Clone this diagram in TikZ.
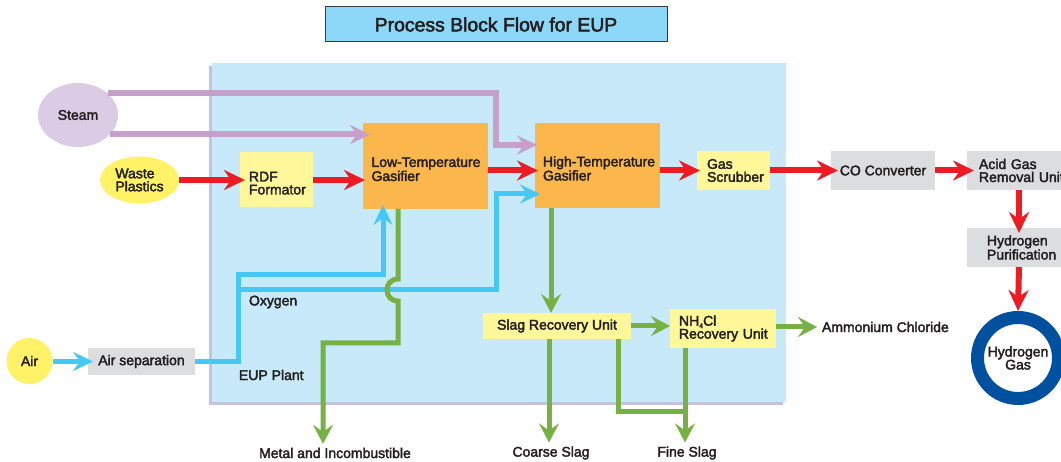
\documentclass[tikz,border=0pt]{standalone}
\usepackage{fontspec}
\setmainfont{Liberation Sans}[FakeBold=2.5]
\usetikzlibrary{arrows.meta,shapes.geometric,calc}
\definecolor{plantblue}{HTML}{C7E9F9}
\definecolor{plantshadow}{HTML}{C6C1E0}
\definecolor{titleblue}{HTML}{8DD8F8}
\definecolor{titleborder}{HTML}{3A3A3A}
\definecolor{steamfill}{HTML}{DCCBE4}
\definecolor{steamline}{HTML}{C69FCB}
\definecolor{yellowfill}{HTML}{FFF266}
\definecolor{paleyellow}{HTML}{FFF799}
\definecolor{orangefill}{HTML}{FBB74C}
\definecolor{grayfill}{HTML}{DCDDDE}
\definecolor{redline}{HTML}{ED1C24}
\definecolor{blueline}{HTML}{45C8F4}
\definecolor{greenline}{HTML}{77B143}
\definecolor{ringblue}{HTML}{0050A0}
\definecolor{textcol}{HTML}{231F20}
\newcommand{\oneline}[1]{\mbox{#1}}
\newcommand{\lowerstrut}{\rule{0pt}{16pt}}
\begin{document}
\begin{tikzpicture}[x=1pt,y=-1pt,
  every node/.style={text=textcol, font=\fontsize{14}{13}\selectfont, inner sep=0pt, outer sep=0pt},
  unitbox/.style={rectangle, inner ysep=0pt},
  ybox/.style={unitbox, fill=paleyellow},
  obox/.style={unitbox, fill=orangefill},
  gbox/.style={unitbox, fill=grayfill},
  redflow/.style={draw=redline, line width=6pt, -{Stealth[length=21pt,width=20pt,inset=7pt]}},
  steamflow/.style={draw=steamline, line width=6pt, -{Stealth[length=20pt,width=19pt,inset=7pt]}},
  oxyflow/.style={draw=blueline, line width=5pt},
  oxyarrow/.style={oxyflow, -{Stealth[length=20pt,width=19pt,inset=7pt]}},
  slagflow/.style={draw=greenline, line width=5pt},
  slagarrow/.style={slagflow, -{Stealth[length=19pt,width=20pt,inset=7pt]}},
]
\useasboundingbox (0,0) rectangle (1061,462);
\clip (0,0) rectangle (1061,462);

% plant background
\fill[plantshadow] (209,66) rectangle (783,405);
\fill[plantblue] (212,63) rectangle (786,402);

% title
\node[draw=titleborder, line width=1pt, fill=titleblue, minimum width=342pt, minimum height=35pt,
      font=\fontsize{19.4}{22}\selectfont] (title) at (496,24.5) {Process Block Flow for EUP};

% sources
\node[ellipse, fill=steamfill, minimum width=80pt, minimum height=64pt] (steam) at (78,115) {Steam};
\node[ellipse, fill=yellowfill, minimum width=79pt, minimum height=47pt, align=left] (wp) at (139.5,180) {Waste\\Plastics};
\node[circle, fill=yellowfill, minimum size=46pt] (air) at (29.5,361) {Air};

% units
\node[ybox, minimum width=73pt, minimum height=55pt, inner xsep=9pt, text width=55pt, align=left] (rdf) at (276.5,180) {\oneline{\lowerstrut RDF}\\\oneline{Formator}};
\node[obox, minimum width=125pt, minimum height=86pt, inner xsep=8.5pt, text width=108pt, align=left] (lt) at (425.5,166) {\oneline{\lowerstrut Low-Temperature}\\\oneline{Gasifier}};
\node[obox, minimum width=125pt, minimum height=85pt, inner xsep=8pt, text width=109pt, align=left] (ht) at (597.5,165.5) {\oneline{\lowerstrut High-Temperature}\\\oneline{Gasifier}};
\node[ybox, minimum width=73pt, minimum height=39pt, inner xsep=10pt, text width=53pt, align=left] (gs) at (733.5,170.5) {\oneline{Gas}\\\oneline{Scrubber}};
\node[gbox, minimum width=104pt, minimum height=39pt] (co) at (883,170.5) {CO Converter};
\node[gbox, anchor=west, minimum width=106pt, minimum height=39pt, inner xsep=12pt, text width=100pt, align=left] (ag) at (967,170.5) {\oneline{Acid Gas}\\\oneline{Removal Unit}};
\node[gbox, anchor=west, minimum width=106pt, minimum height=39pt, inner xsep=20pt, text width=80pt, align=left] (hp) at (967,247.5) {\oneline{Hydrogen}\\\oneline{Purification}};
\node[circle, draw=ringblue, line width=13pt, fill=white, minimum size=81pt, align=center, outer sep=6.5pt] (h2) at (1018,358) {Hydrogen\\Gas};
\node[gbox, minimum width=107pt, minimum height=27pt] (asep) at (141.5,361.5) {Air separation};
\node[ybox, minimum width=148pt, minimum height=26pt] (sru) at (557,326) {Slag Recovery Unit};
\node[ybox, minimum width=106pt, minimum height=39pt, inner xsep=9pt, text width=88pt, align=left] (nh) at (723,328.5) {\oneline{NH\raisebox{-0.35ex}{\fontsize{7}{7}\selectfont 4}Cl}\\\oneline{Recovery Unit}};

% labels
\node[anchor=west] (oxy) at (249,302) {Oxygen};
\node[anchor=west] (eup) at (239,375) {EUP Plant};
\node (metal) at (335,453) {Metal and Incombustible};
\node (coarse) at (551,453) {Coarse Slag};
\node (fine) at (687,453) {Fine Slag};
\node[anchor=west] (amm) at (822,327) {Ammonium Chloride};

% red main flow
\draw[redflow, shorten >=-5pt] (wp.east) -- (wp.east -| rdf.west);
\draw[redflow, shorten >=-2pt] (rdf.east) -- (rdf.east -| lt.west);
\draw[redflow, shorten >=-3pt] (lt.east |- gs.west) -- (ht.west |- gs.west);
\draw[redflow, shorten >=-3pt] (ht.east |- gs.west) -- (gs.west);
\draw[redflow, shorten >=-7pt] (gs.east) -- (co.west);
\draw[redflow, shorten >=-7pt] (co.east) -- (ag.west);
\draw[redflow, shorten >=-5pt] (1019,0 |- ag.south) -- (1019,0 |- hp.north);
\draw[redflow] (1019,0 |- hp.south) -- (h2.north);

% steam
\draw[steamflow, shorten >=-2pt] ($(steam.center)+(29.6,-21.5)$) -| (496,145) -- (ht.west |- 0,145);
\draw[steamflow, shorten >=-7pt] ($(steam.center)+(31.7,19.5)$) -- (lt.west |- 0,134.5);

% oxygen
\draw[oxyarrow, shorten >=-5pt] (asep.west -| air.east) -- (asep.west);
\draw[oxyarrow, shorten >=-4pt] (asep.east) -| (238,275) -| (383,0 |- lt.south);
\coordinate (oxj) at (238,290);
\draw[oxyarrow, shorten >=-5pt] (oxj) -- (496,290) |- (ht.west |- 0,194);

% slag and residues
\draw[slagarrow, shorten >=4pt] (398,0 |- lt.south) -- (398,279) .. controls (383.3,279) and (383.3,301) .. (398,301) -- (398,343) -| (323,0 |- metal.north);
\draw[slagarrow] (551,0 |- ht.south) -- (551,0 |- sru.north);
\draw[slagarrow] (sru.east) -- (sru.east -| nh.west);
\draw[slagarrow, shorten >=5pt] (amm.west -| nh.east) -- (amm.west);
\draw[slagarrow, shorten >=4pt] (549,0 |- sru.south) -- (549,0 |- coarse.north);
\draw[slagflow] (618,0 |- sru.south) |- (685,412);
\draw[slagarrow, shorten >=4pt] (685,0 |- nh.south) -- (685,0 |- fine.north);
\end{tikzpicture}
\end{document}
